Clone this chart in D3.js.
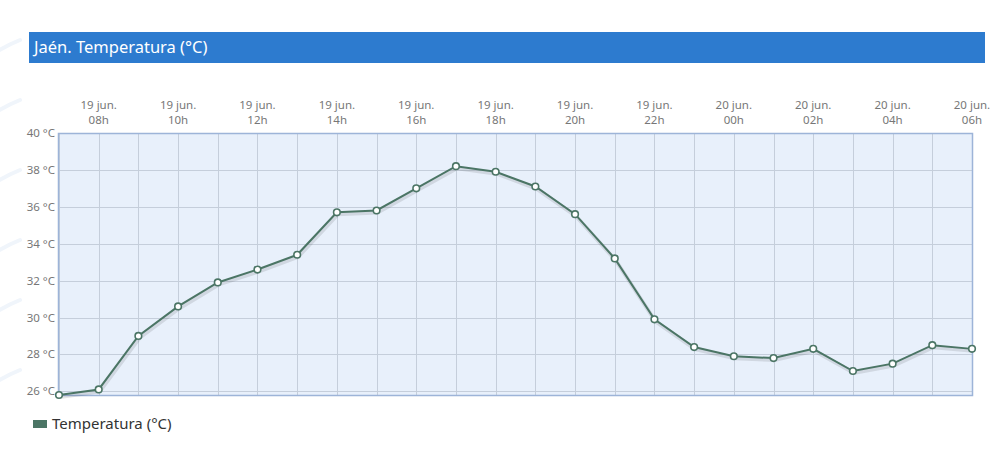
<!DOCTYPE html>
<html>
<head>
<meta charset="utf-8">
<script src="https://cdn.jsdelivr.net/npm/d3@7"></script>
<style>
  body { margin: 0; background: #fff; font-family: "Noto Sans", "Open Sans", sans-serif; }
</style>
</head>
<body>
<div id="chart"></div>
<script>
// hourly readings, 19 jun 07h -> 20 jun 06h
var days = ["19 jun.", "19 jun.", "19 jun.", "19 jun.", "19 jun.", "19 jun.", "19 jun.", "19 jun.", "19 jun.",
  "19 jun.", "19 jun.", "19 jun.", "19 jun.", "19 jun.", "19 jun.", "19 jun.", "19 jun.",
  "20 jun.", "20 jun.", "20 jun.", "20 jun.", "20 jun.", "20 jun.", "20 jun."];
var hours = ["07h", "08h", "09h", "10h", "11h", "12h", "13h", "14h", "15h", "16h", "17h", "18h", "19h", "20h",
  "21h", "22h", "23h", "00h", "01h", "02h", "03h", "04h", "05h", "06h"];
var temps = [25.8, 26.1, 29.0, 30.6, 31.9, 32.6, 33.4, 35.7, 35.8, 37.0, 38.2, 37.9, 37.1, 35.6,
  33.2, 29.9, 28.4, 27.9, 27.8, 28.3, 27.1, 27.5, 28.5, 28.3];
var yTicks = [26, 28, 30, 32, 34, 36, 38, 40];
var seriesName = "Temperatura (°C)";
var title = "Jaén. Temperatura (°C)";

var W = 1000, H = 453;
var plot = { left: 58, right: 972, top: 133, bottom: 395 };
var lineColor = "#4b7565";

var svg = d3.select("#chart").append("svg")
  .attr("width", W).attr("height", H);

// faint decorative swooshes at left edge
var deco = svg.append("g").attr("stroke", "#f0f5fb").attr("stroke-width", 4).attr("fill", "none").attr("stroke-linecap", "round");
[40, 100, 170, 240, 300, 370].forEach(function (y0) {
  deco.append("path").attr("d", "M-10," + (y0 + 16) + " Q5," + (y0 + 6) + " 20," + y0);
});

// title bar
svg.append("rect").attr("x", 29).attr("y", 32).attr("width", 956).attr("height", 31).attr("fill", "#2d7bcf");
svg.append("text").attr("x", 34).attr("y", 53).attr("fill", "#fff")
  .style("font-size", "16.5px").text(title);

var x = d3.scaleLinear().domain([0, temps.length - 1]).range([plot.left + 1, plot.right]);
var y = d3.scaleLinear().domain([25.8, 40]).range([plot.bottom, plot.top]);

// plot background
svg.append("rect").attr("x", plot.left).attr("y", plot.top)
  .attr("width", plot.right - plot.left).attr("height", plot.bottom - plot.top)
  .attr("fill", "#e8f0fb");

// grid
var grid = svg.append("g").attr("stroke", "#c5cedb").attr("stroke-width", 1);
d3.range(temps.length).forEach(function (i) {
  grid.append("line").attr("x1", Math.round(x(i)) + 0.5).attr("x2", Math.round(x(i)) + 0.5)
    .attr("y1", plot.top).attr("y2", plot.bottom);
});
yTicks.forEach(function (t) {
  grid.append("line").attr("x1", plot.left).attr("x2", plot.right)
    .attr("y1", Math.round(y(t)) + 0.5).attr("y2", Math.round(y(t)) + 0.5);
});

// plot border
svg.append("rect").attr("x", plot.left + 0.5).attr("y", plot.top + 0.5)
  .attr("width", plot.right - plot.left).attr("height", plot.bottom - plot.top)
  .attr("fill", "none").attr("stroke", "#9db4d8").attr("stroke-width", 1.5);

// y labels
svg.append("g").selectAll("text").data(yTicks).join("text")
  .attr("x", plot.left - 3).attr("y", function (d) { return y(d) + 4; })
  .attr("text-anchor", "end").attr("fill", "#777")
  .style("font-size", "11.5px").text(function (d) { return d + " °C"; });

// x labels every two hours
var xl = svg.append("g").attr("fill", "#777").style("font-size", "11.5px").attr("text-anchor", "middle");
d3.range(1, temps.length, 2).forEach(function (i) {
  xl.append("text").attr("x", x(i)).attr("y", 109).text(days[i]);
  xl.append("text").attr("x", x(i)).attr("y", 124).text(hours[i]);
});

// line with soft shadow
var line = d3.line().x(function (d, i) { return x(i); }).y(function (d) { return y(d); });
svg.append("path").datum(temps).attr("d", line)
  .attr("fill", "none").attr("stroke", "#000").attr("stroke-opacity", 0.1)
  .attr("stroke-width", 4).attr("transform", "translate(1,2)");
svg.append("path").datum(temps).attr("d", line)
  .attr("fill", "none").attr("stroke", lineColor).attr("stroke-width", 2);

svg.append("g").selectAll("circle").data(temps).join("circle")
  .attr("cx", function (d, i) { return x(i); })
  .attr("cy", function (d) { return y(d); })
  .attr("r", 3.3).attr("fill", "#fff").attr("stroke", lineColor).attr("stroke-width", 1.6);

// legend
svg.append("rect").attr("x", 33).attr("y", 420).attr("width", 14).attr("height", 8).attr("fill", lineColor);
svg.append("text").attr("x", 52).attr("y", 429).attr("fill", "#333")
  .style("font-size", "15px").text(seriesName);
</script>
</body>
</html>
